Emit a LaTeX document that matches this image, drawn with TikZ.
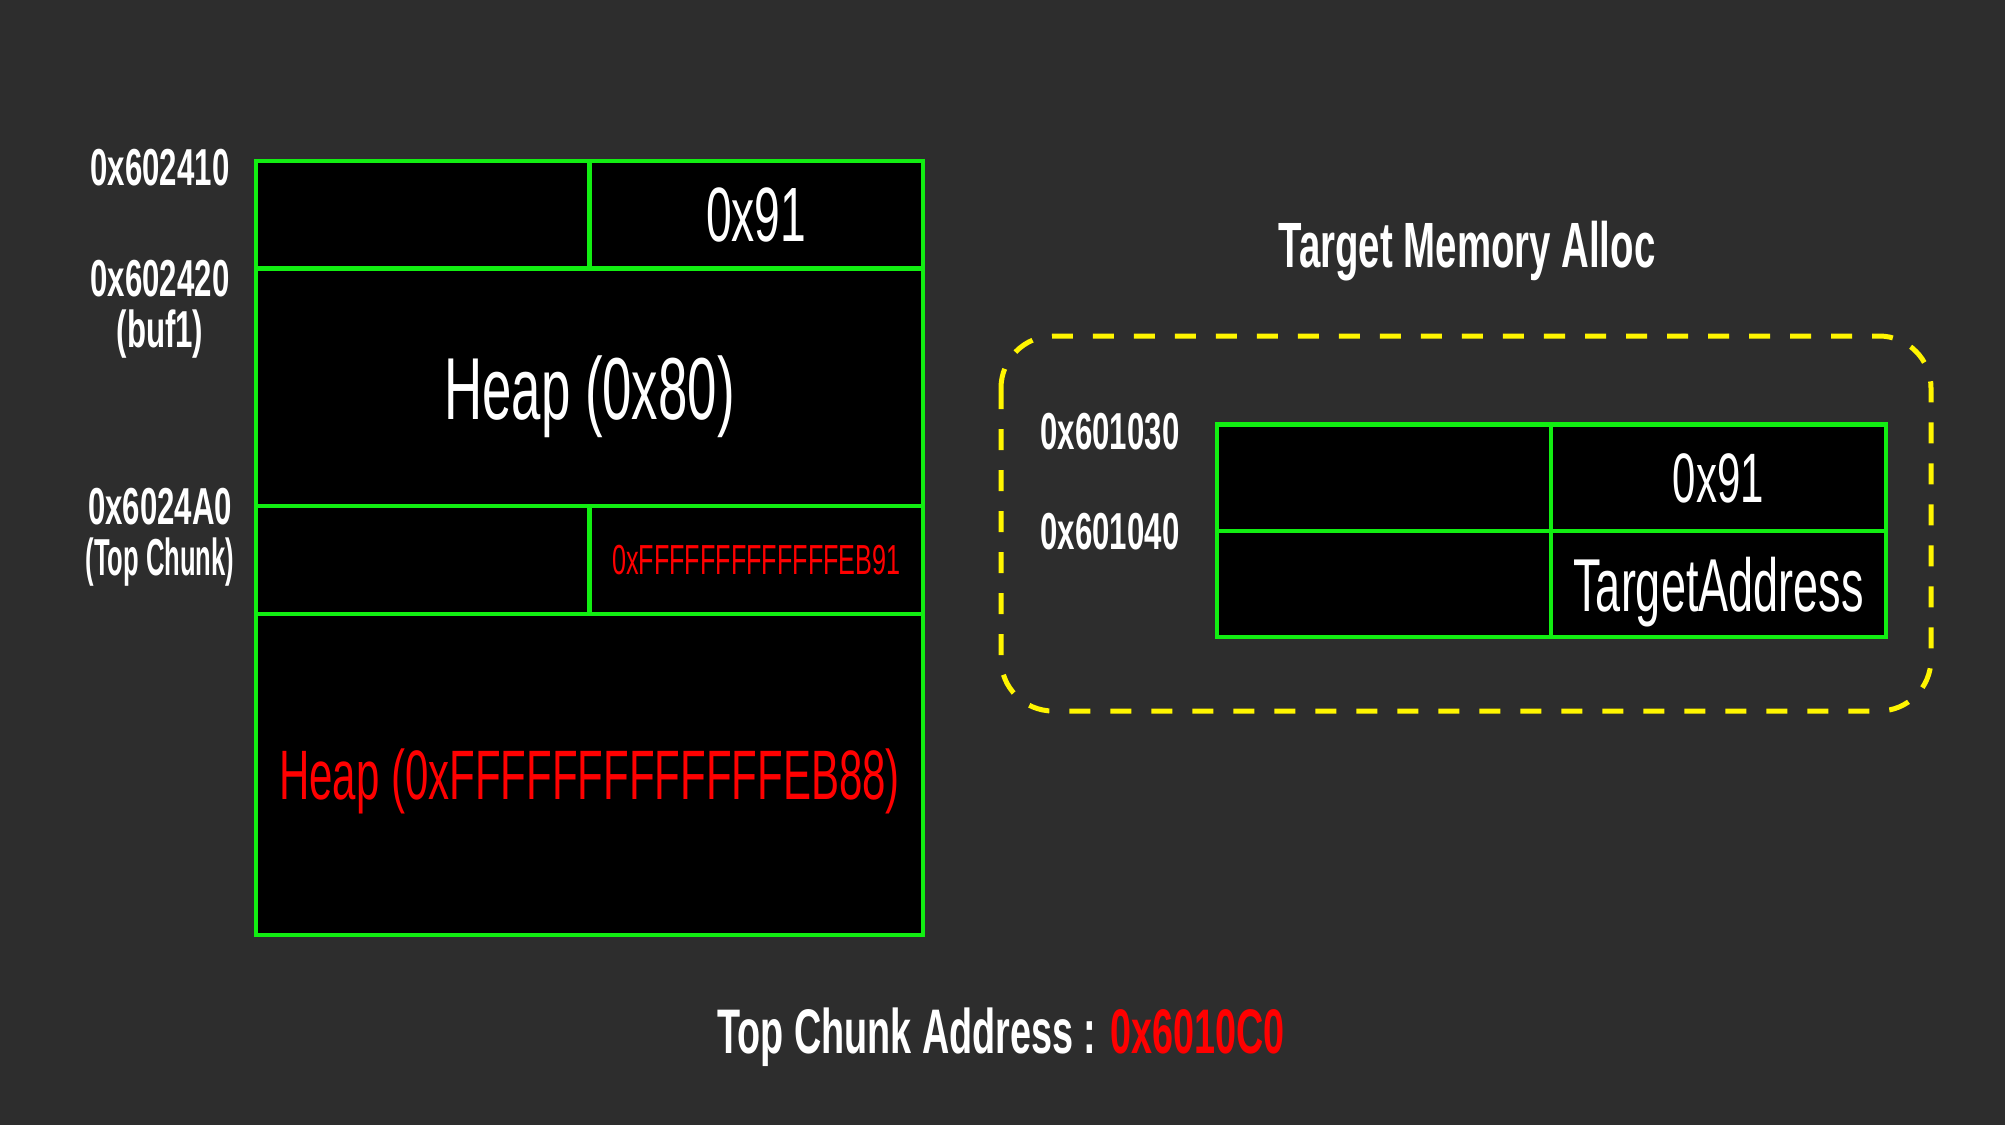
\documentclass[tikz,border=0pt]{standalone}
\usepackage{fontspec}
\setmainfont{Liberation Sans}[FakeStretch=0.6]
\usepackage{tikz}

\definecolor{bgdark}{RGB}{45,45,45}
\definecolor{cellgreen}{RGB}{18,238,18}
\definecolor{heapred}{RGB}{255,0,0}
\definecolor{framey}{RGB}{255,245,0}

\tikzset{
  cell/.style={draw=cellgreen, fill=black, line width=4.5pt, inner sep=0pt, text=white, text depth=0pt},
  addr/.style={text=white, inner sep=0pt, align=center, font=\bfseries\fontsize{52}{51}\selectfont},
  frame/.style={draw=framey, line width=5pt, dash pattern=on 21pt off 20pt, rounded corners=52pt}
}

\begin{document}
\begin{tikzpicture}[x=1pt,y=-1pt]
\fill[bgdark] (0,0) rectangle (2005,1125);
\useasboundingbox (0,0) rectangle (2005,1125);

% heap chunks
\node[cell, minimum width=333.5pt, minimum height=107.5pt] (c1a) at (422.75,214.75) {};
\node[cell, minimum width=333.5pt, minimum height=107.5pt, font=\fontsize{77}{77}\selectfont] (c1b) at (756.25,214.75) {0x91};
\node[cell, minimum width=667pt, minimum height=237.5pt, font=\fontsize{88}{88}\selectfont] (heap1) at (589.5,387.25) {Heap (0x80)};
\node[cell, minimum width=333.5pt, minimum height=108pt] (c2a) at (422.75,560) {};
\node[cell, minimum width=333.5pt, minimum height=108pt, text=heapred, font=\fontsize{42}{42}\selectfont] (c2b) at (756.25,560) {0xFFFFFFFFFFFFFEB91};
\node[cell, minimum width=667pt, minimum height=321pt, text=heapred, font=\fontsize{70}{70}\selectfont] (heap2) at (589.5,774.5) {Heap (0xFFFFFFFFFFFFFEB88)};

\node[addr] (a1) at (160,167.5) {0x602410};
\node[addr] (a2) at (160,309.5) {0x602420\\(buf1)};
\node[addr] (a3) at (160,537) {0x6024A0\\\scalebox{0.82}[1]{(Top Chunk)}};

% target
\node[text=white, inner sep=0pt, font=\bfseries\fontsize{64}{64}\selectfont] (title) at (1467,251) {Target Memory Alloc};
\draw[frame] (1001,336) rectangle (1931,711);
\node[cell, minimum width=334pt, minimum height=106.5pt] (t1a) at (1384,477.75) {};
\node[cell, minimum width=335pt, minimum height=106.5pt, font=\fontsize{70}{70}\selectfont] (t1b) at (1718.5,477.75) {0x91};
\node[cell, minimum width=334pt, minimum height=106pt] (t2a) at (1384,584) {};
\node[cell, minimum width=335pt, minimum height=106pt, font=\fontsize{75}{75}\selectfont] (t2b) at (1718.5,584) {TargetAddress};
\node[addr] (b1) at (1110,432) {0x601030};
\node[addr] (b2) at (1110,532) {0x601040};

\node[text=white, inner sep=0pt, font=\bfseries\fontsize{63}{63}\selectfont] (topaddr) at (1001,1037) {Top Chunk Address : \textcolor{heapred}{0x6010C0}};
\end{tikzpicture}
\end{document}
